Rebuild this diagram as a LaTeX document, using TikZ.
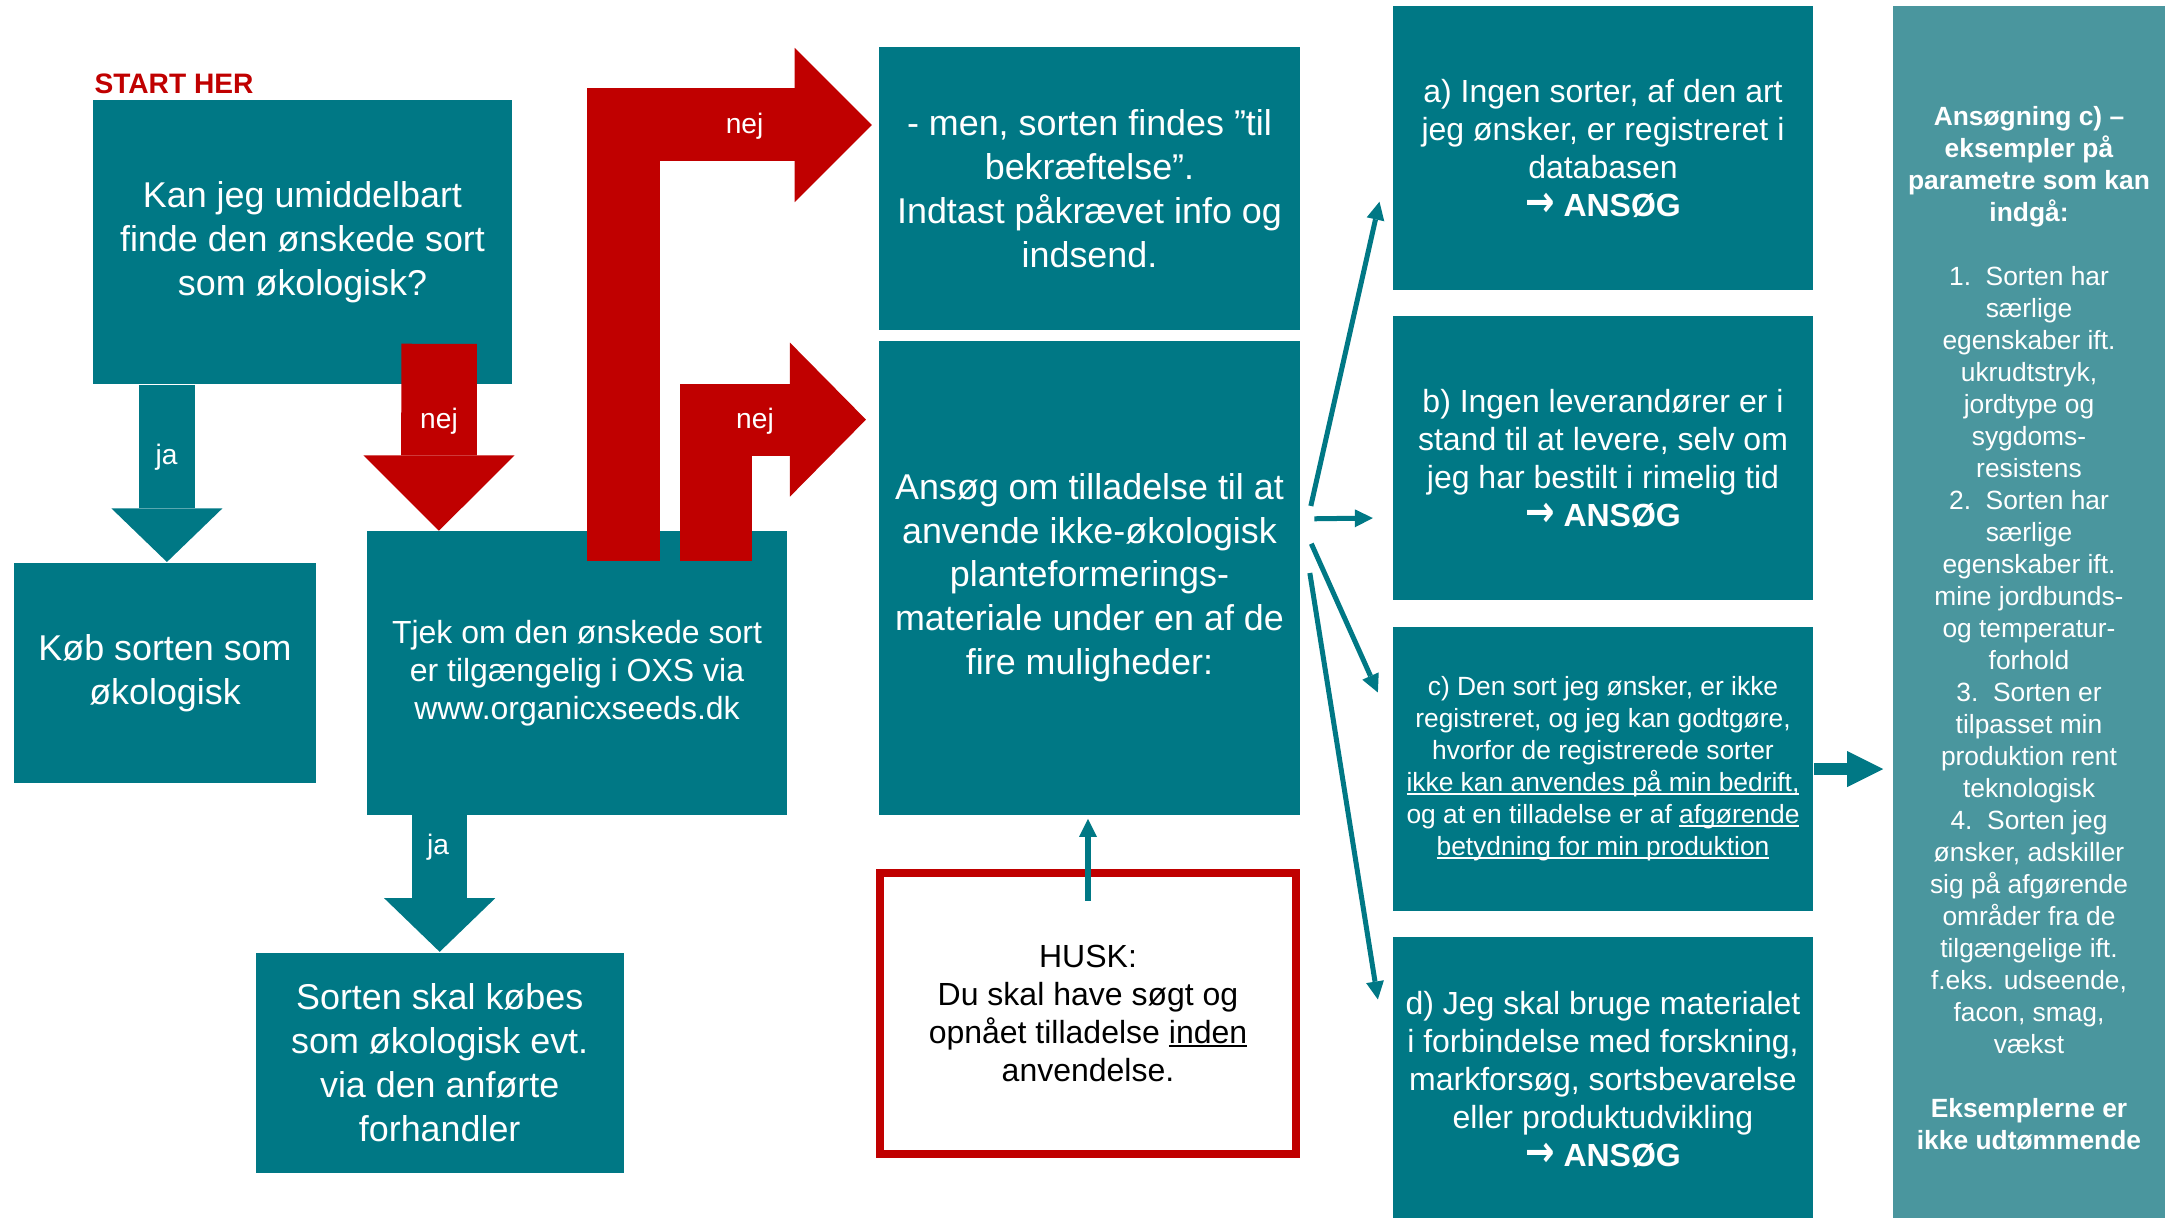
\documentclass[tikz,border=0pt]{standalone}
\usepackage{fontspec}
\setmainfont{Liberation Sans}
\newfontfamily\symfont{DejaVu Sans}
\usetikzlibrary{arrows.meta}

\definecolor{oxsteal}{RGB}{0,120,133}
\definecolor{oxsred}{RGB}{192,0,0}
\definecolor{panelteal}{RGB}{74,150,158}

% underline just below the baseline
\newsavebox{\undlbox}
\newcommand{\undl}[1]{\sbox\undlbox{#1}\rlap{\rule[-0.12em]{\wd\undlbox}{0.07em}}\usebox\undlbox}
\newcommand{\ansog}{\scalebox{1.1}[1.35]{\symfont\bfseries →}\ \textbf{ANSØG}}

\tikzstyle{box}=[rectangle,fill=oxsteal,text=white,align=center,inner sep=0pt]
\tikzstyle{bigtext}=[font=\fontsize{10.2}{12.5}\selectfont]
\tikzstyle{midtext}=[font=\fontsize{9.1}{10.8}\selectfont]
\tikzstyle{smalltext}=[font=\fontsize{7.5}{9.1}\selectfont]
\tikzstyle{lbl}=[text=white,font=\fontsize{8}{9.6}\selectfont]
\tikzstyle{tealblock}=[draw=oxsteal,line width=0.555cm,
  -{Triangle[length=0.536cm,width=1.11cm,line width=0pt]}]
\tikzstyle{redblock}=[draw=oxsred]
\tikzstyle{pil}=[draw=oxsteal,line width=0.05cm,
  -{Triangle[length=0.18cm,width=0.18cm,line width=0pt]}]

\begin{document}
\begin{tikzpicture}[x=0.01cm,y=-0.01cm]
  \useasboundingbox (0,0) rectangle (2165,1217);

  \node[text=oxsred,font=\bfseries\fontsize{8}{9.6}\selectfont] (start) at (174,84) {START HER};

  % left column
  \node[box,bigtext,minimum width=4.19cm,minimum height=2.84cm] (q) at (302.5,242)
    {Kan jeg umiddelbart\\finde den ønskede sort\\som økologisk?};
  \node[box,bigtext,minimum width=3.02cm,minimum height=2.205cm] (kob) at (165,673)
    {Køb sorten som\\økologisk};
  \node[box,midtext,minimum width=4.20cm,minimum height=2.83cm] (tjek) at (577,673)
    {Tjek om den ønskede sort\\er tilgængelig i OXS via\\www.organicxseeds.dk};
  \node[box,bigtext,minimum width=3.674cm,minimum height=2.208cm] (sorten) at (439.7,1063)
    {Sorten skal købes\\som økologisk evt.\\via den anførte\\forhandler};

  % middle column
  \node[box,bigtext,minimum width=4.21cm,minimum height=2.83cm] (men) at (1089.5,188.5)
    {- men, sorten findes ”til\\bekræftelse”.\\Indtast påkrævet info og\\indsend.};
  \node[box,bigtext,minimum width=4.21cm,minimum height=4.735cm] (ansog) at (1089.5,577.7)
    {Ansøg om tilladelse til at\\anvende ikke-økologisk\\planteformerings-\\materiale under en af de\\fire muligheder:};
  \node[draw=oxsred,line width=0.08cm,fill=white,align=center,midtext,
    minimum width=4.16cm,minimum height=2.81cm] (husk) at (1088,1013.5)
    {HUSK:\\Du skal have søgt og\\opnået tilladelse \undl{inden}\\anvendelse.};

  % right column
  \node[box,midtext,minimum width=4.206cm,minimum height=2.83cm] (a) at (1603,148)
    {a) Ingen sorter, af den art\\jeg ønsker, er registreret i\\databasen\\\ansog};
  \node[box,midtext,minimum width=4.206cm,minimum height=2.84cm] (b) at (1603,458)
    {b) Ingen leverandører er i\\stand til at levere, selv om\\jeg har bestilt i rimelig tid\\\ansog};
  \node[box,smalltext,minimum width=4.206cm,minimum height=2.84cm] (c) at (1603,769)
    {c) Den sort jeg ønsker, er ikke\\registreret, og jeg kan godtgøre,\\hvorfor de registrerede sorter\\\undl{ikke kan anvendes på min bedrift,}\\og at en tilladelse er af \undl{afgørende}\\\undl{betydning for min produktion}};
  \node[box,midtext,minimum width=4.206cm,minimum height=2.84cm] (d) at (1603,1079)
    {d) Jeg skal bruge materialet\\i forbindelse med forskning,\\markforsøg, sortsbevarelse\\eller produktudvikling\\\ansog};

  \node[box,fill=panelteal,minimum width=2.725cm,minimum height=12.14cm] (panel) at (2029.75,613) {};
  \node[text=white,align=center,smalltext] (paneltxt) at (2029,628)
    {\textbf{Ansøgning c) –}\\\textbf{eksempler på}\\\textbf{parametre som kan}\\\textbf{indgå:}\\[9.1pt]
     1.\ \ Sorten har\\særlige\\egenskaber ift.\\ukrudtstryk,\\jordtype og\\sygdoms-\\resistens\\
     2.\ \ Sorten har\\særlige\\egenskaber ift.\\mine jordbunds-\\og temperatur-\\forhold\\
     3.\ \ Sorten er\\tilpasset min\\produktion rent\\teknologisk\\
     4.\ \ Sorten jeg\\ønsker, adskiller\\sig på afgørende\\områder fra de\\tilgængelige ift.\\f.eks. udseende,\\facon, smag,\\vækst\\[9.1pt]
     \textbf{Eksemplerne er}\\\textbf{ikke udtømmende}};

  % block arrows
  \path[tealblock] ([xshift=-1.355cm]q.south) -- ([xshift=-1.355cm]q.south |- kob.north);
  \path[tealblock] (sorten.north |- tjek.south) -- (sorten.north);
  \path[redblock,line width=0.755cm,-{Triangle[length=0.753cm,width=1.51cm,line width=0pt]}]
    ([xshift=1.365cm,yshift=0.41cm]q.south) -- ([xshift=-1.38cm]tjek.north);
  \path[redblock,line width=0.73cm,-{Triangle[length=0.77cm,width=1.54cm,line width=0pt]}]
    ([xshift=0.46cm,yshift=-0.305cm]tjek.north) |- ([xshift=-0.064cm,yshift=0.635cm]men.west);
  \path[redblock,line width=0.72cm,-{Triangle[length=0.76cm,width=1.54cm,line width=0pt]}]
    ([xshift=1.385cm,yshift=-0.305cm]tjek.north) |- ([xshift=-0.122cm,yshift=1.58cm]ansog.west);

  \node[lbl] (ja1) at (166.5,457) {ja};
  \node[lbl] (ja2) at (438,847.5) {ja};
  \node[lbl] (nej1) at (439,421) {nej};
  \node[lbl] (nej2) at (744.6,126) {nej};
  \node[lbl] (nej3) at (755,421) {nej};

  % thin arrows
  \path[pil] ([xshift=0.1cm,yshift=0.717cm]ansog.east) -- ([xshift=-0.124cm,yshift=-0.537cm]a.west);
  \path[pil] ([xshift=0.136cm,yshift=0.589cm]ansog.east) -- ([xshift=-0.19cm,yshift=-0.6cm]b.west);
  \path[pil] ([xshift=0.105cm,yshift=0.34cm]ansog.east) -- ([xshift=-0.14cm,yshift=0.765cm]c.west);
  \path[pil] ([xshift=0.09cm,yshift=0.047cm]ansog.east) -- ([xshift=-0.14cm,yshift=0.795cm]d.west);
  \path[pil,line width=0.06cm] ([yshift=-0.32cm]husk.north) -- ([yshift=-0.035cm]husk.north |- ansog.south);
  \path[draw=oxsteal,line width=0.12cm,-{Triangle[length=0.36cm,width=0.36cm,line width=0pt]}]
    (c.east) -- ([xshift=-0.095cm]c.east -| panel.west);
\end{tikzpicture}
\end{document}
